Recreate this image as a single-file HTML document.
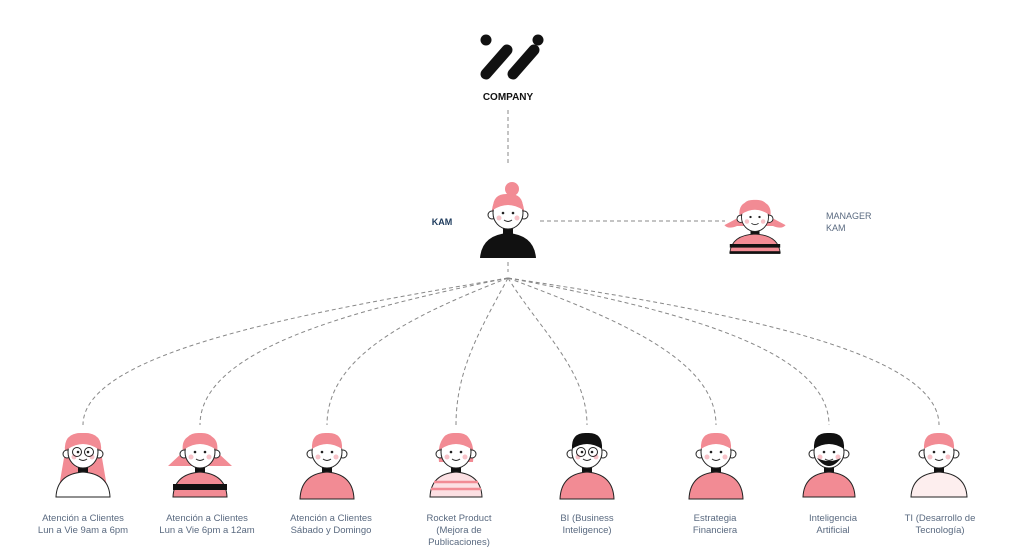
<!DOCTYPE html>
<html><head><meta charset="utf-8"><style>
body{margin:0;background:#fff;width:1024px;height:548px;overflow:hidden;font-family:"Liberation Sans",sans-serif}
</style></head><body>
<svg width="1024" height="548" viewBox="0 0 1024 548" xmlns="http://www.w3.org/2000/svg">
<defs>
<g id="face">
<circle cx="-16" cy="2" r="4" fill="#fff" stroke="#222" stroke-width="1"/>
<circle cx="16" cy="2" r="4" fill="#fff" stroke="#222" stroke-width="1"/>
<rect x="-5" y="12" width="10" height="10" fill="#111"/>
<ellipse cx="0" cy="0" rx="15" ry="16" fill="#fff" stroke="#222" stroke-width="1"/>
<circle cx="-5" cy="0" r="1.3" fill="#222"/><circle cx="5" cy="0" r="1.3" fill="#222"/>
<path d="M-4 7 Q0 10 4 7" stroke="#222" fill="none" stroke-width="1"/>
<circle cx="-9" cy="5" r="2.5" fill="#f7c2c8"/><circle cx="9" cy="5" r="2.5" fill="#f7c2c8"/>
</g>
<path id="cap" d="M-15 -3 Q-16 -20 0 -19 Q16 -20 15 -3 Q0 -13 -15 -3Z"/>
</defs>
<g stroke="#888" stroke-width="1" fill="none" stroke-dasharray="4,3">
<line x1="508" y1="110" x2="508" y2="165"/>
<line x1="540" y1="221" x2="725" y2="221"/>
<line x1="508" y1="262" x2="508" y2="272"/>
<path d="M508 278 C320 310 83 350 83 425"/>
<path d="M508 278 C350 310 200 350 200 425"/>
<path d="M508 278 C400 320 327 360 327 425"/>
<path d="M508 278 C480 330 456 370 456 425"/>
<path d="M508 278 C540 330 587 370 587 425"/>
<path d="M508 278 C620 320 716 360 716 425"/>
<path d="M508 278 C680 310 829 350 829 425"/>
<path d="M508 278 C720 310 939 350 939 425"/>
</g>
<g stroke="#111" stroke-width="11" stroke-linecap="round">
<line x1="486" y1="74" x2="507" y2="50"/><line x1="513" y1="74" x2="534" y2="50"/>
</g>
<circle cx="486" cy="40" r="5.5" fill="#111"/><circle cx="538" cy="40" r="5.5" fill="#111"/>
<text x="508" y="100" text-anchor="middle" font-size="10" font-weight="bold" fill="#111">COMPANY</text>
<text x="442" y="225" text-anchor="middle" font-size="9" font-weight="bold" fill="#1d3a5c">KAM</text>
<text x="826" y="219" font-size="9" fill="#5a6a80">MANAGER</text>
<text x="826" y="231" font-size="9" fill="#5a6a80">KAM</text>
<!-- KAM -->
<g transform="translate(508,213)">
<circle cx="4" cy="-24" r="7" fill="#f28b94"/>
<path d="M-16 5 Q-18 -18 0 -17 Q18 -18 16 5 Z" fill="#f28b94"/>
<use href="#face"/>
<use href="#cap" fill="#f28b94"/>
<path d="M-28 45 Q-26 22 0 20 Q26 22 28 45 Z" fill="#111"/>
</g>
<!-- Manager -->
<g transform="translate(755,217) scale(0.9)">
<path d="M-17 0 Q-20 -18 0 -18 Q20 -18 17 0 L34 9 Q30 14 20 10 L-20 10 Q-30 14 -34 9 Z" fill="#f28b94"/>
<use href="#face"/>
<use href="#cap" fill="#f28b94"/>
<path d="M-28 40 Q-26 20 0 19 Q26 20 28 40 Z" fill="#f28b94" stroke="#222" stroke-width="1"/>
<rect x="-28" y="30" width="56" height="4" fill="#111"/><rect x="-28" y="38" width="56" height="3" fill="#111"/>
</g>
<g transform="translate(83,452)">
<path d="M-18 0 Q-20 -20 0 -19 Q20 -20 18 0 L24 35 L-24 35Z" fill="#f28b94"/>
<use href="#face"/>
<use href="#cap" fill="#f28b94"/>
<circle cx="-6" cy="0" r="4.5" fill="none" stroke="#222"/><circle cx="6" cy="0" r="4.5" fill="none" stroke="#222"/>
<path d="M-27 45 Q-26 22 0 20 Q26 22 27 45 Z" fill="#fff" stroke="#222" stroke-width="1"/>
</g>
<g transform="translate(200,452)">
<path d="M-17 0 Q-20 -18 0 -18 Q20 -18 17 0 L32 14 L-32 14 Z" fill="#f28b94"/>
<use href="#face"/>
<use href="#cap" fill="#f28b94"/>
<path d="M-27 45 Q-26 22 0 20 Q26 22 27 45 Z" fill="#f28b94" stroke="#222" stroke-width="1"/>
<rect x="-27" y="32" width="54" height="6" fill="#111"/>
</g>
<g transform="translate(327,452)">
<use href="#face"/>
<use href="#cap" fill="#f28b94"/>
<path d="M-27 47 Q-26 22 0 20 Q26 22 27 47 Z" fill="#f28b94" stroke="#222" stroke-width="1"/>
</g>
<g transform="translate(456,452)">
<path d="M-17 10 Q-20 -19 0 -19 Q20 -19 17 10 Z" fill="#f28b94"/>
<use href="#face"/>
<use href="#cap" fill="#f28b94"/>
<path d="M-26 45 Q-25 22 0 20 Q25 22 26 45 Z" fill="#fce0e3" stroke="#222" stroke-width="1"/>
<g stroke="#f28b94" stroke-width="2.5"><line x1="-22" y1="30" x2="22" y2="30"/><line x1="-25" y1="37" x2="25" y2="37"/></g>
</g>
<g transform="translate(587,452)">
<use href="#face"/>
<use href="#cap" fill="#111"/>
<circle cx="-6" cy="0" r="4.5" fill="none" stroke="#222"/><circle cx="6" cy="0" r="4.5" fill="none" stroke="#222"/>
<path d="M-27 47 Q-26 22 0 20 Q26 22 27 47 Z" fill="#f28b94" stroke="#222" stroke-width="1"/>
</g>
<g transform="translate(716,452)">
<use href="#face"/>
<use href="#cap" fill="#f28b94"/>
<path d="M-27 47 Q-26 22 0 20 Q26 22 27 47 Z" fill="#f28b94" stroke="#222" stroke-width="1"/>
</g>
<g transform="translate(829,452)">
<use href="#face"/>
<use href="#cap" fill="#111"/>
<path d="M-12 6 Q0 22 12 6 Q0 12 -12 6Z" fill="#111"/>
<path d="M-26 45 Q-25 22 0 20 Q25 22 26 45 Z" fill="#f28b94" stroke="#222" stroke-width="1"/>
</g>
<g transform="translate(939,452)">
<use href="#face"/>
<use href="#cap" fill="#f28b94"/>
<path d="M-28 45 Q-27 22 0 20 Q27 22 28 45 Z" fill="#fdeeee" stroke="#222" stroke-width="1"/>
</g>
<g font-size="9.5" fill="#5a6a80" text-anchor="middle">
<text x="83" y="521">Atención a Clientes</text><text x="83" y="533">Lun a Vie 9am a 6pm</text>
<text x="207" y="521">Atención a Clientes</text><text x="207" y="533">Lun a Vie 6pm a 12am</text>
<text x="331" y="521">Atención a Clientes</text><text x="331" y="533">Sábado y Domingo</text>
<text x="459" y="521">Rocket Product</text><text x="459" y="533">(Mejora de</text><text x="459" y="545">Publicaciones)</text>
<text x="587" y="521">BI (Business</text><text x="587" y="533">Inteligence)</text>
<text x="715" y="521">Estrategia</text><text x="715" y="533">Financiera</text>
<text x="833" y="521">Inteligencia</text><text x="833" y="533">Artificial</text>
<text x="940" y="521">TI (Desarrollo de</text><text x="940" y="533">Tecnología)</text>
</g>
</svg>
</body></html>
